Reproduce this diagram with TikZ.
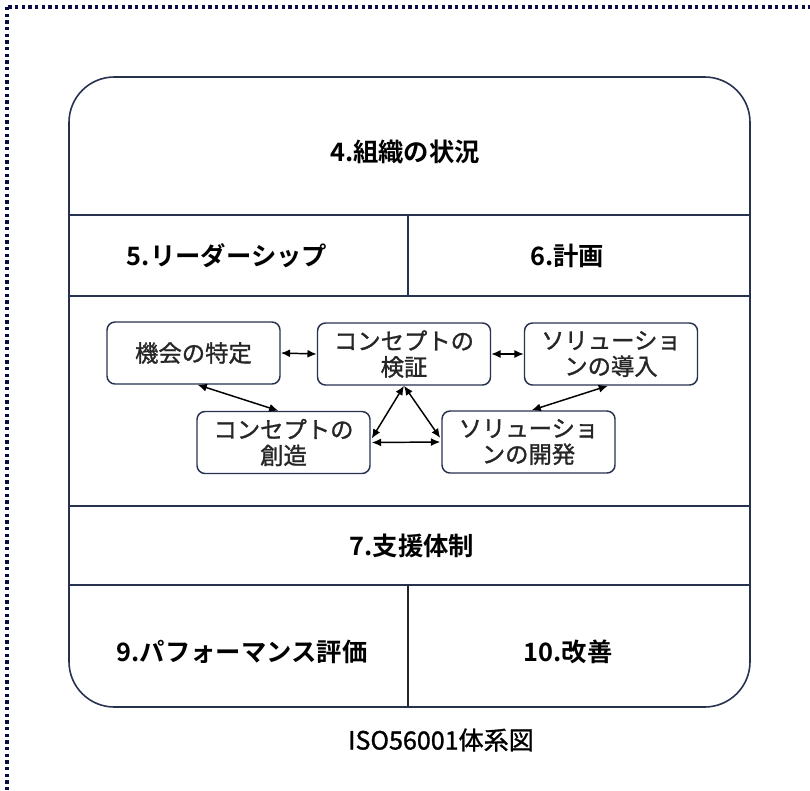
\documentclass[tikz,border=0pt]{standalone}
\usepackage{fontspec}
\setmainfont{Noto Sans CJK JP}[BoldFont={Noto Sans CJK JP Bold}]
\newfontfamily\jpmed{Noto Sans CJK JP}[FakeBold=1.2]
\usetikzlibrary{arrows.meta,calc}
\definecolor{linec}{HTML}{27324F}
\definecolor{dotc}{HTML}{0C0C46}
\begin{document}
\begin{tikzpicture}[x=0.75pt,y=-0.75pt,
  frameline/.style={draw=linec, line width=1.2pt},
  sec/.style={font=\fontsize{19}{22}\selectfont\bfseries, text=black, inner sep=0pt},
  capt/.style={font=\jpmed\fontsize{18.8}{22}\selectfont, text=black, inner sep=0pt},
  proc/.style={draw=linec, line width=1.1pt, rounded corners=6pt, fill=white,
    minimum width=129.75pt, minimum height=46.5pt, inner sep=0pt, align=center,
    font=\jpmed\fontsize{17.5}{19.5}\selectfont, text=black!85},
  link/.style={{Latex[length=7pt,width=6pt]}-{Latex[length=7pt,width=6pt]}, line width=1.1pt, draw=black}]
\useasboundingbox (0,0) rectangle (810,790);
\begin{scope}
\clip (0,0) rectangle (810,790);
\draw[dotc, line width=2.6pt, dash pattern=on 2.4pt off 2.6pt] (7,7) rectangle (840,793);
\end{scope}
% outer frame and divisions
\draw[frameline, rounded corners=34pt] (69,77) rectangle (750,707);
\draw[frameline] (69,215) -- (750,215);
\draw[frameline] (69,296) -- (750,296);
\draw[frameline] (69,506) -- (750,506);
\draw[frameline] (69,585) -- (750,585);
\draw[frameline] (408,215) -- (408,296);
\draw[frameline, draw=black!85] (408,585) -- (408,707);
% section labels
\node[sec] (s4) at (405,152) {4.組織の状況};
\node[sec] (s5) at (227,256) {5.リーダーシップ};
\node[sec] (s6) at (567,256) {6.計画};
\node[sec] (s7) at (412,546) {7.支援体制};
\node[sec] (s9) at (242,652) {9.パフォーマンス評価};
\node[sec] (s10) at (568,652) {10.改善};
\node[capt] (cap) at (441,740) {ISO56001体系図};
% process boxes
\node[proc] (opp) at (193.5,353) {機会の特定};
\node[proc] (ver) at (404,354) {コンセプトの\\検証};
\node[proc] (intro) at (611,354) {ソリューショ\\ンの導入};
\node[proc] (create) at (283.5,442.5) {コンセプトの\\創造};
\node[proc] (dev) at (528.5,442) {ソリューショ\\ンの開発};
% connectors
\draw[link] (opp.east) -- (ver.west);
\draw[link] (ver.east) -- (intro.west);
\draw[link] ($(opp.south)+(4,0)$) -- ($(create.north)+(-5,0)$);
\draw[link] ($(intro.south)+(-3,0)$) -- ($(dev.north)+(3,0)$);
\draw[link] (ver.south) -- ($(create.east)+(1,-4)$);
\draw[link] (ver.south) -- ($(dev.west)+(-1,-4)$);
\draw[link] ($(create.east)+(1,0)$) -- ($(dev.west)+(-1,0)$);
\end{tikzpicture}
\end{document}
